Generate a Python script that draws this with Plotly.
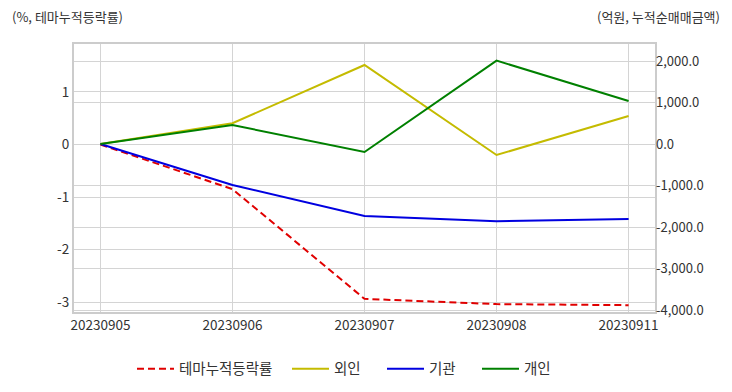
import plotly.graph_objects as go

dates = ["20230905", "20230906", "20230907", "20230908", "20230911"]
theme_rate = [0.0, -0.85, -2.94, -3.04, -3.06]
foreign = [0.0, 500.0, 1904.0, -265.0, 675.0]
institution = [0.0, -988.0, -1735.0, -1860.0, -1807.0]
individual = [0.0, 458.0, -193.0, 2010.0, 1036.0]

left_tick_vals = [1, 0, -1, -2, -3]
left_tick_text = ["1", "0", "-1", "-2", "-3"]
right_tick_vals = [2000, 1000, 0, -1000, -2000, -3000, -4000]
right_tick_text = ["2,000.0", "1,000.0", "0.0", "-1,000.0", "-2,000.0", "-3,000.0", "-4,000.0"]

FONT = "Noto Sans CJK KR, Noto Sans, sans-serif"
GRID = "#d4d4d4"
TXT = "#333333"

fig = go.Figure()
fig.add_trace(go.Scatter(x=dates, y=theme_rate, name="테마누적등락률", mode="lines",
                         line=dict(color="#e00000", width=2, dash="7px,4px"), yaxis="y",
                         legend="legend"))
fig.add_trace(go.Scatter(x=dates, y=foreign, name="외인", mode="lines",
                         line=dict(color="#c4bb00", width=2), yaxis="y2", legend="legend2"))
fig.add_trace(go.Scatter(x=dates, y=institution, name="기관", mode="lines",
                         line=dict(color="#0000e0", width=2), yaxis="y2", legend="legend3"))
fig.add_trace(go.Scatter(x=dates, y=individual, name="개인", mode="lines",
                         line=dict(color="#008000", width=2), yaxis="y2", legend="legend4"))

PLOT_L, PLOT_W = 74, 581


def leg(px):
    return dict(orientation="h", x=(px - PLOT_L) / PLOT_W, xanchor="left",
                y=-0.152, yanchor="top", font=dict(size=14.5, color=TXT),
                itemwidth=37, bgcolor="rgba(0,0,0,0)")


fig.update_layout(
    width=732, height=392,
    margin=dict(l=74, r=77, t=44, b=80, autoexpand=False),
    paper_bgcolor="white", plot_bgcolor="white",
    font=dict(family=FONT, size=12, color=TXT),
    showlegend=True,
    legend=leg(132), legend2=leg(287), legend3=leg(382), legend4=leg(477),
    xaxis=dict(type="category", range=[-0.2, 4.2], showgrid=True, gridcolor=GRID,
               showline=True, linecolor="#cccccc", linewidth=2, mirror=True,
               ticks="", automargin=False, tickfont=dict(size=13.5, color=TXT)),
    yaxis=dict(range=[-3.19, 1.914], tickmode="array", tickvals=left_tick_vals,
               ticktext=left_tick_text, showgrid=True, gridcolor=GRID,
               zeroline=False, showline=True, linecolor="#cccccc", linewidth=2, mirror=True,
               ticks="", automargin=False, tickfont=dict(size=13.5, color=TXT)),
    yaxis2=dict(range=[-4048, 2410], tickmode="array", tickvals=right_tick_vals,
                ticktext=right_tick_text, overlaying="y", side="right",
                showgrid=True, gridcolor=GRID, zeroline=False,
                ticks="", automargin=False, tickfont=dict(size=13, color=TXT)),
    annotations=[
        dict(text="(%, 테마누적등락률)", xref="paper", yref="paper", x=-0.110, y=1.104,
             xanchor="left", yanchor="middle", showarrow=False,
             font=dict(size=13, color=TXT)),
        dict(text="(억원, 누적순매매금액)", xref="paper", yref="paper", x=1.115, y=1.104,
             xanchor="right", yanchor="middle", showarrow=False,
             font=dict(size=13, color=TXT)),
    ],
)

fig.write_html("out.html", config={"displayModeBar": False},
               post_script="document.body.style.margin='0';")
